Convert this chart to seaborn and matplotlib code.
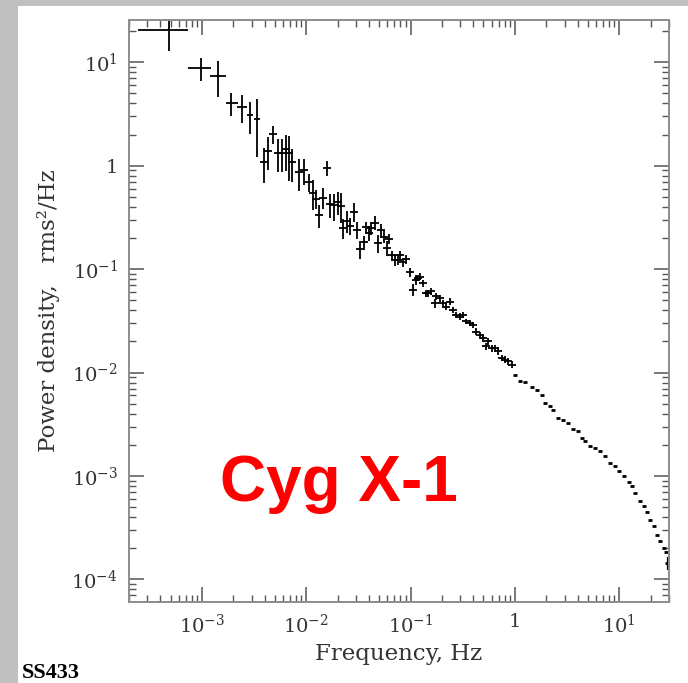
import numpy as np
import pandas as pd
import matplotlib
matplotlib.use("Agg")
import matplotlib.pyplot as plt
import matplotlib.patches as mpatches
from matplotlib.ticker import LogLocator, FuncFormatter, NullFormatter
import seaborn as sns

# Lowest-frequency bins: centre, bin edges, power and 1-sigma error
lf_freq = [4.82e-4, 9.72e-4, 1.435e-3, 1.91e-3, 2.44e-3, 2.91e-3, 3.40e-3]
lf_f_lo = [2.43e-4, 7.29e-4, 1.20e-3, 1.69e-3, 2.19e-3, 2.72e-3, 3.18e-3]
lf_f_hi = [7.33e-4, 1.21e-3, 1.71e-3, 2.20e-3, 2.73e-3, 3.12e-3, 3.64e-3]
lf_power = [20.7, 8.75, 7.42, 4.02, 3.72, 3.10, 2.83]
lf_err = [7.8, 2.16, 2.83, 0.97, 1.14, 1.07, 1.61]

# Mid-frequency bins with vertical errors
mf_freq = [3.92e-3, 4.34e-3, 4.82e-3, 5.38e-3, 5.92e-3, 6.38e-3, 6.86e-3, 7.38e-3,
           8.43e-3, 9.57e-3, 1.052e-2, 1.150e-2, 1.24e-2, 1.334e-2, 1.435e-2,
           1.567e-2, 1.70e-2, 1.858e-2, 2.00e-2, 2.157e-2, 2.27e-2, 2.46e-2,
           2.65e-2, 2.85e-2, 3.05e-2, 3.31e-2, 3.56e-2, 3.78e-2, 3.97e-2,
           4.22e-2, 4.58e-2, 4.89e-2, 5.23e-2, 5.54e-2, 5.92e-2, 6.24e-2,
           6.67e-2, 7.13e-2, 7.55e-2, 7.96e-2, 8.43e-2, 9.09e-2, 9.93e-2,
           0.1052, 0.1134, 0.1175, 0.1240, 0.1313, 0.1394, 0.1466, 0.1581,
           0.1701, 0.1767, 0.1901, 0.2045, 0.2205, 0.2371, 0.2551, 0.2750,
           0.2960, 0.3184, 0.3432, 0.3693, 0.3972, 0.4282, 0.4607, 0.4957,
           0.5263, 0.5537, 0.5970, 0.6423, 0.6910, 0.7450, 0.8014, 0.8623,
           0.9296]
mf_power = [1.088, 1.399, 2.015, 1.339, 1.339, 1.443, 1.321, 1.081,
            0.865, 0.911, 0.697, 0.550, 0.478, 0.335, 0.492,
            0.959, 0.425, 0.415, 0.447, 0.412, 0.249, 0.293,
            0.262, 0.360, 0.240, 0.156, 0.181, 0.2545, 0.223,
            0.249, 0.282, 0.178, 0.240, 0.2065, 0.160, 0.1975,
            0.137, 0.123, 0.123, 0.137, 0.116, 0.125, 0.0936,
            0.0631, 0.0788, 0.0818, 0.0848, 0.0732, 0.0586, 0.0586, 0.0608,
            0.0469, 0.0544, 0.0525, 0.0469, 0.0435, 0.0486, 0.0404, 0.0362,
            0.0348, 0.0362, 0.0312, 0.0301, 0.0290, 0.0249, 0.0232, 0.0215,
            0.0179, 0.0200, 0.01725, 0.01725, 0.0160, 0.0138, 0.0133, 0.0128,
            0.0119]
mf_err = [0.41, 0.49, 0.40, 0.47, 0.48, 0.55, 0.61, 0.38,
          0.30, 0.26, 0.135, 0.18, 0.10, 0.086, 0.11,
          0.16, 0.11, 0.12, 0.11, 0.13, 0.054, 0.07,
          0.048, 0.072, 0.045, 0.031, 0.027, 0.031, 0.038,
          0.035, 0.042, 0.036, 0.034, 0.028, 0.027, 0.022,
          0.014, 0.017, 0.013, 0.014, 0.011, 0.0125, 0.0094,
          0.0079, 0.0083, 0.0055, 0.0065, 0.0055, 0.0045, 0.0045, 0.0045,
          0.0045, 0.004, 0.004, 0.0035, 0.0033, 0.0035, 0.003, 0.0025,
          0.0025, 0.0025, 0.002, 0.002, 0.002, 0.0018, 0.0017, 0.0016,
          0.0015, 0.0015, 0.0013, 0.0013, 0.0012, 0.001, 0.001, 0.001,
          0.0009]

# High-frequency bins (errors smaller than the marker)
hf_freq = [1.0, 1.117, 1.248, 1.447, 1.617, 1.806, 1.944, 2.170, 2.335, 2.608,
           2.913, 3.254, 3.636, 4.062, 4.378, 4.710, 5.262, 5.878, 6.566, 7.335,
           8.194, 9.153, 9.846, 11.0, 12.29, 13.25, 14.25, 15.92, 17.13, 18.47,
           19.87, 21.37, 23.04, 24.79, 26.67, 28.31]
hf_power = [9.52e-3, 8.20e-3, 8.02e-3, 7.24e-3, 6.82e-3, 6.10e-3, 5.07e-3, 4.70e-3,
            4.37e-3, 3.63e-3, 3.50e-3, 3.25e-3, 2.84e-3, 2.70e-3, 2.33e-3, 2.16e-3,
            1.96e-3, 1.86e-3, 1.73e-3, 1.55e-3, 1.34e-3, 1.26e-3, 1.11e-3, 1.01e-3,
            8.68e-4, 7.94e-4, 6.85e-4, 5.68e-4, 5.08e-4, 4.45e-4, 3.78e-4, 3.26e-4,
            2.71e-4, 2.33e-4, 2.01e-4, 1.83e-4]

# Last bin at the Nyquist edge
edge_freq = [29.1]
edge_power = [1.44e-4]
edge_err = [2.0e-5]

sns.set_theme(style="ticks")
plt.rcParams["font.family"] = ["DejaVu Serif"]
plt.rcParams["mathtext.fontset"] = "dejavuserif"

W, H = 688, 683
fig = plt.figure(figsize=(W / 100, H / 100), dpi=100)
fig.patch.set_facecolor("white")

# grey page frame on the left and top
fig.patches.append(mpatches.Rectangle((0, 0), 18 / W, 1, transform=fig.transFigure,
                                      facecolor="#c0c0c0", edgecolor="none", zorder=0))
fig.patches.append(mpatches.Rectangle((0, 1 - 6 / H), 1, 6 / H, transform=fig.transFigure,
                                      facecolor="#c0c0c0", edgecolor="none", zorder=0))

ax = fig.add_axes([129 / W, 1 - 602 / H, 540 / W, 582 / H])
ax.set_xscale("log")
ax.set_yscale("log")
ax.set_xlim(2e-4, 30)
ax.set_ylim(6.05e-5, 25.6)

ink = "black"
lf_x = np.array(lf_freq)
ax.errorbar(lf_freq, lf_power,
            xerr=[lf_x - np.array(lf_f_lo), np.array(lf_f_hi) - lf_x],
            yerr=lf_err, fmt="none", ecolor=ink, elinewidth=1.3, capsize=0)

ax.errorbar(mf_freq, mf_power, yerr=mf_err, fmt="_", color=ink, ms=6, mew=1.3,
            ecolor=ink, elinewidth=1.3, capsize=0)

ax.errorbar(edge_freq, edge_power, yerr=edge_err, fmt="_", color=ink, ms=4, mew=2,
            ecolor=ink, elinewidth=1.6, capsize=0)

hf = pd.DataFrame({"freq": hf_freq, "power": hf_power})
sns.scatterplot(data=hf, x="freq", y="power", ax=ax, marker="_", s=9,
                color=ink, linewidth=2.0)

# axes frame and ticks
for sp in ax.spines.values():
    sp.set_color("#8c8c8c")
    sp.set_linewidth(1.4)

def decade_label(v, pos):
    e = int(round(np.log10(v)))
    return "1" if e == 0 else r"$10^{%d}$" % e

for axis in (ax.xaxis, ax.yaxis):
    axis.set_major_locator(LogLocator(base=10, numticks=20))
    axis.set_minor_locator(LogLocator(base=10, subs=np.arange(2, 10), numticks=20))
    axis.set_major_formatter(FuncFormatter(decade_label))
    axis.set_minor_formatter(NullFormatter())

ax.tick_params(which="both", direction="in", top=True, right=True,
               color="#555555", labelsize=14, labelcolor="#333333")
ax.tick_params(which="major", length=11, width=1.1)
ax.tick_params(which="minor", length=5, width=1.0)
ax.tick_params(axis="y", which="major", pad=8)
ax.tick_params(axis="x", which="major", pad=8)

ax.set_xlabel("Frequency, Hz", fontsize=16.5, color="#333333", labelpad=5)
ax.set_ylabel("Power density,   rms²/Hz", fontsize=16.5, color="#333333", labelpad=8)
ax.grid(False)

fig.text(0.492, 1 - 501 / H, "Cyg X-1", color="#ff0000", fontsize=46,
         fontweight="bold", family="Liberation Sans", ha="center", va="baseline")
fig.text(22 / W, 1 - 678 / H, "SS433", color="black", fontsize=16,
         fontweight="bold", family="Liberation Serif", ha="left", va="baseline")

fig.savefig("out.png", dpi=100, facecolor=fig.get_facecolor())
